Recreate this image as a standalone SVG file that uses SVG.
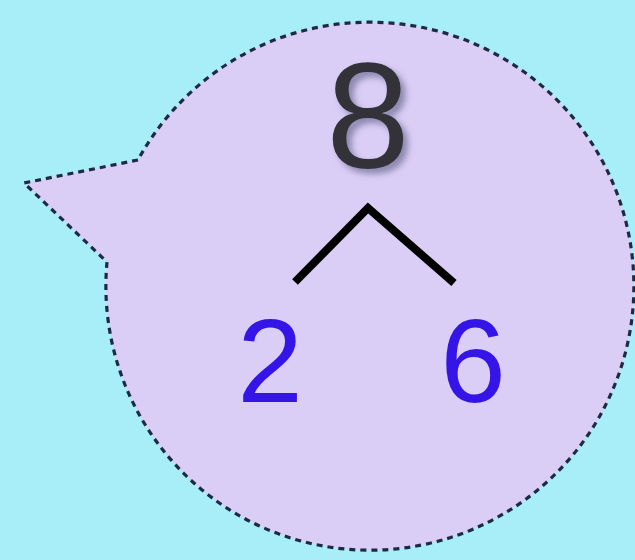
<svg xmlns="http://www.w3.org/2000/svg" width="635" height="560" viewBox="0 0 635 560">
<defs>
<style>
.bubble{fill:#dacdf6;stroke:#1c2a44;stroke-width:3.2;stroke-dasharray:6 5;stroke-linejoin:miter}
.top{font-family:"Liberation Sans",Arial,sans-serif;font-size:150px;fill:#333338;text-anchor:middle}
.part{font-family:"Liberation Sans",Arial,sans-serif;font-size:118px;fill:#3414e6;text-anchor:middle}
.branch{fill:none;stroke:#000;stroke-width:8;stroke-linecap:butt;stroke-linejoin:miter}
</style>
<filter id="shadow" x="-30%" y="-30%" width="160%" height="160%">
<feGaussianBlur in="SourceAlpha" stdDeviation="3" result="b"/>
<feOffset dx="5" dy="5" result="o"/>
<feFlood flood-color="#6a6a90" flood-opacity="0.7"/>
<feComposite in2="o" operator="in" result="s"/>
<feMerge><feMergeNode in="s"/><feMergeNode in="SourceGraphic"/></feMerge>
</filter>
</defs>
<rect width="635" height="560" fill="#a8eef9"/>
<g id="bubble">
<path class="bubble" d="M 138 160 L 24 183 L 107 262 A 264 264 0 1 0 138 160 Z"/>
</g>
<g id="whole">
<text class="top" x="368" y="168" filter="url(#shadow)">8</text>
</g>
<g id="connectors">
<polyline class="branch" points="295,282 368,208 454,283"/>
</g>
<g id="part-left">
<text class="part" x="270" y="402">2</text>
</g>
<g id="part-right">
<text class="part" x="473" y="402">6</text>
</g>
</svg>
